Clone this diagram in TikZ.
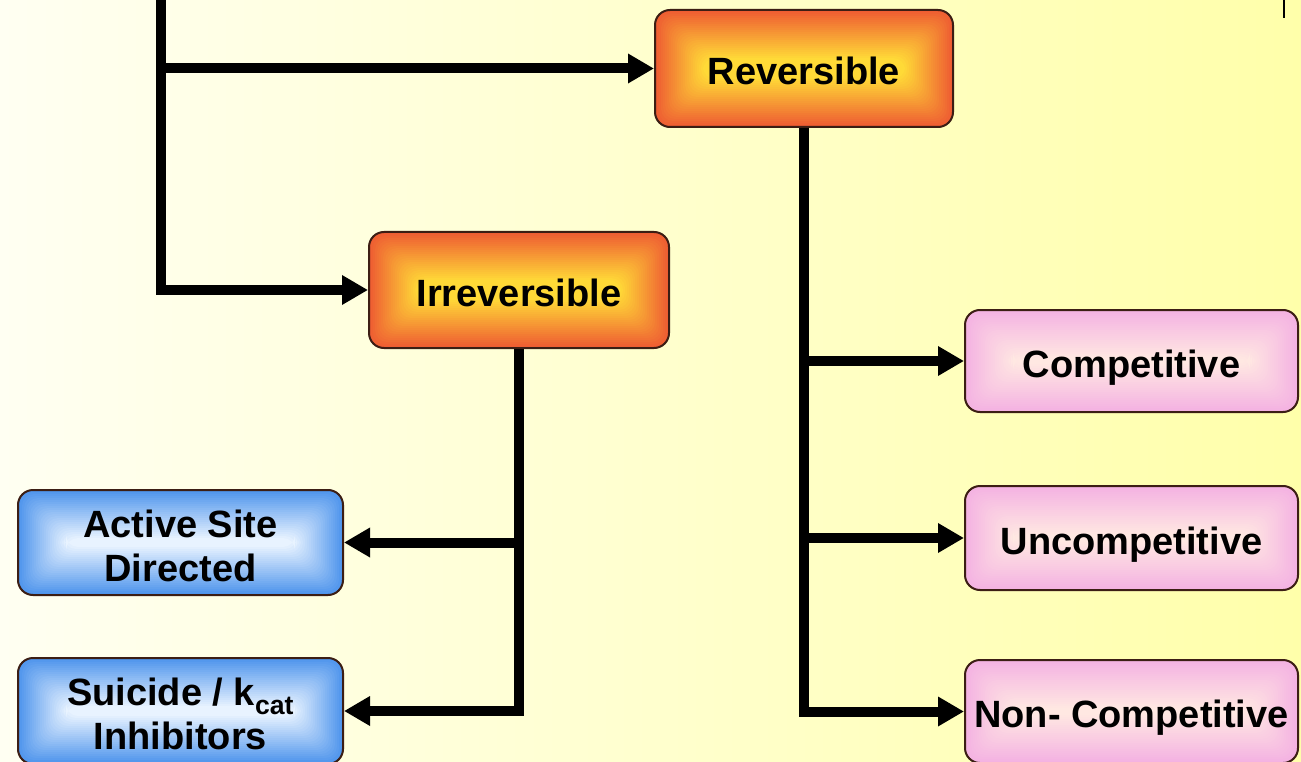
\documentclass[tikz,border=0pt]{standalone}
\usepackage{fontspec}
\setmainfont{Liberation Sans}
\usetikzlibrary{arrows.meta,calc}
\definecolor{bgL}{RGB}{255,255,242}
\definecolor{bgR}{RGB}{255,255,170}
\definecolor{edge}{RGB}{60,30,20}
\definecolor{orOut}{RGB}{238,92,50}
\definecolor{orIn}{RGB}{255,218,55}
\definecolor{pkOut}{RGB}{244,178,226}
\definecolor{pkIn}{RGB}{255,232,226}
\definecolor{blOut}{RGB}{78,148,236}
\definecolor{blIn}{RGB}{232,243,255}
\newcommand\glowlayers[2]{%
  \foreach \i in {0,...,24}{%
    \pgfmathsetmacro\pct{100*\i/24}%
    \pgfmathsetmacro\dd{2*\i}%
    \fill[color=#1!\pct!#2, rounded corners=12pt]
      ([shift={(\dd pt,\dd pt)}]path picture bounding box.south west) rectangle
      ([shift={(-\dd pt,-\dd pt)}]path picture bounding box.north east);
  }}
\tikzset{
  box/.style={draw=edge, line width=2pt, rounded corners=15pt, inner sep=0pt,
    align=center, font=\fontsize{38}{44}\selectfont\bfseries},
  oneline/.style={text height=32pt, text depth=0pt},
  twoline/.style={text height=77pt, text depth=0pt},
  orangebox/.style={box, path picture={\glowlayers{orIn}{orOut}}},
  pinkbox/.style={box, path picture={\glowlayers{pkIn}{pkOut}}},
  bluebox/.style={box, path picture={\glowlayers{blIn}{blOut}}},
  conn/.style={line width=10pt, line join=miter, -{Triangle[length=26pt,width=28pt]}},
}
\begin{document}
\begin{tikzpicture}[x=1pt,y=-1pt]
\useasboundingbox (0,0) rectangle (1301,762);
\shade[left color=bgL, right color=bgR] (0,0) rectangle (1301,762);

\node[orangebox, oneline, minimum width=298pt, minimum height=117pt] (rev) at (804,68.5) {Reversible};
\node[orangebox, oneline, minimum width=300pt, minimum height=116pt] (irr) at (519,290) {Irreversible};
\node[pinkbox, oneline, minimum width=333pt, minimum height=102pt] (comp) at (1131.5,361) {Competitive};
\node[pinkbox, oneline, minimum width=333pt, minimum height=104pt] (unc) at (1131.5,538) {Uncompetitive};
\node[pinkbox, oneline, minimum width=333pt, minimum height=103pt] (nonc) at (1131.5,711.5) {Non- Competitive};
\node[bluebox, twoline, minimum width=325pt, minimum height=105pt] (act) at (180.5,542.5) {Active Site\\Directed};
\node[bluebox, twoline, minimum width=325pt, minimum height=106pt] (sui) at (180.5,711) {Suicide / k\textsubscript{cat}\\Inhibitors};

\coordinate (top) at (161,-6);
\draw[conn] (top) |- (irr.west);
\draw[conn] (top |- rev.west) -- (rev.west);

\draw[conn] (rev.south) |- (nonc.west);
\draw[conn] (rev.south |- comp.west) -- (comp.west);
\draw[conn] (rev.south |- unc.west) -- (unc.west);

\draw[conn] (irr.south) |- (sui.east);
\draw[conn] (irr.south |- act.east) -- (act.east);

\coordinate (m1) at (1284,-2);
\coordinate (m2) at (1284,18);
\draw[line width=1.5pt] (m1) -- (m2);
\end{tikzpicture}
\end{document}
